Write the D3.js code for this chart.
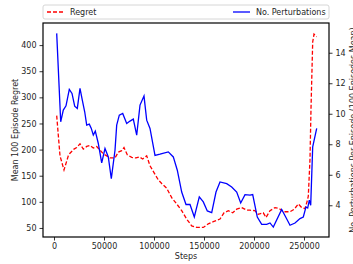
<!DOCTYPE html>
<html>
<head>
<meta charset="utf-8">
<script src="https://cdn.jsdelivr.net/npm/d3@7"></script>
<style>
  body { margin: 0; background: #fff; overflow: hidden; }
  text { font-family: "DejaVu Sans", sans-serif; fill: #262626; }
</style>
</head>
<body>
<script>
// regret (left axis)
const regretSteps = [2700, 6000, 10000, 14300, 16000, 20000, 22700, 26000, 29300, 32700, 36000, 39300, 42700, 46000, 49300, 52700, 56000, 61000, 64300, 67700, 70000, 73300, 77700, 82000, 85300, 88700, 92700, 96000, 100000, 104300, 107700, 112700, 117700, 122700, 127700, 132700, 137700, 142700, 149300, 154300, 159300, 166000, 170000, 174300, 178700, 182700, 187700, 192700, 196000, 201000, 204300, 209300, 212000, 216000, 221000, 225300, 229300, 236000, 240300, 244300, 247700, 251000, 253300, 254300, 256000, 257000, 258700, 260000, 262700];
const regret = [265, 188, 161, 188, 193, 201, 204, 211, 201, 206, 208, 203, 206, 199, 192, 188, 184, 184, 195, 198, 204, 190, 185, 184, 186, 182, 188, 169, 156, 142, 135, 126, 108, 96, 83, 67, 54, 51, 51, 58, 62, 67, 79, 83, 79, 86, 89, 84, 84, 83, 76, 79, 70, 83, 89, 87, 81, 81, 86, 96, 89, 87, 102, 111, 182, 278, 406, 421, 416];

// perturbations (right axis)
const pertSteps = [2700, 6700, 9300, 12000, 15300, 18000, 20700, 23300, 26000, 28300, 30700, 32700, 35300, 37300, 39300, 41300, 44300, 47700, 51000, 54300, 57300, 61000, 62700, 65300, 68700, 72700, 76000, 79300, 82700, 86000, 90000, 92700, 96000, 101000, 106000, 114300, 119300, 123300, 127700, 132000, 136000, 140300, 145300, 149300, 153300, 157700, 162000, 166000, 172700, 177700, 182700, 186700, 191000, 196000, 198700, 203300, 207700, 212700, 216000, 219300, 227700, 231700, 236000, 241000, 246000, 249300, 252000, 253700, 255300, 256700, 258700, 262700];
const perturbations = [15.27, 9.47, 10.24, 10.52, 11.6, 11.33, 10.5, 10.35, 11.66, 10.9, 10.13, 9.25, 9.32, 9.04, 8.6, 8.86, 8.05, 6.78, 7.72, 7.17, 5.75, 7.61, 9.25, 9.91, 10.02, 9.36, 9.52, 9.65, 8.6, 10.57, 11.16, 9.58, 9.04, 7.27, 7.35, 7.5, 7.17, 6.3, 4.87, 4.05, 4.05, 3.23, 4.55, 4.22, 3.63, 3.52, 4.87, 5.53, 5.42, 5.2, 4.87, 4.15, 4.7, 4.66, 4.7, 3.23, 2.75, 2.75, 2.84, 2.57, 3.72, 3.23, 2.69, 2.84, 3.13, 3.23, 3.89, 3.82, 4.33, 4.0, 7.83, 9.04];

const xTicks = [0, 50000, 100000, 150000, 200000, 250000];
const leftTicks = [50, 100, 150, 200, 250, 300, 350, 400];
const rightTicks = [4, 6, 8, 10, 12, 14];

const W = 353, H = 264;
const m = { left: 43, right: 329, top: 23, bottom: 237 };

const svg = d3.select("body").append("svg")
    .attr("width", W)
    .attr("height", H);

const x = d3.scaleLinear().domain([-11000, 275000]).range([m.left, m.right]);
const yL = d3.scaleLinear().domain([32.7, 442.3]).range([m.bottom, m.top]);
const yR = d3.scaleLinear().domain([1.92, 15.95]).range([m.bottom, m.top]);

const clip = svg.append("clipPath").attr("id", "plot")
    .append("rect")
    .attr("x", m.left).attr("y", m.top)
    .attr("width", m.right - m.left).attr("height", m.bottom - m.top);

const g = svg.append("g").attr("clip-path", "url(#plot)");

const regretLine = d3.line()
    .x((d, i) => x(regretSteps[i]))
    .y(d => yL(d));

const pertLine = d3.line()
    .x((d, i) => x(pertSteps[i]))
    .y(d => yR(d));

g.append("path")
    .datum(regret)
    .attr("d", regretLine)
    .attr("fill", "none")
    .attr("stroke", "red")
    .attr("stroke-width", 1.3)
    .attr("stroke-dasharray", "4,2");

g.append("path")
    .datum(perturbations)
    .attr("d", pertLine)
    .attr("fill", "none")
    .attr("stroke", "blue")
    .attr("stroke-width", 1.3);

// axes
const xAxis = svg.append("g")
    .attr("transform", `translate(0,${m.bottom})`)
    .call(d3.axisBottom(x).tickValues(xTicks).tickFormat(d3.format("d")).tickSize(3.5).tickPadding(3));

const leftAxis = svg.append("g")
    .attr("transform", `translate(${m.left},0)`)
    .call(d3.axisLeft(yL).tickValues(leftTicks).tickSize(3.5).tickPadding(3));

const rightAxis = svg.append("g")
    .attr("transform", `translate(${m.right},0)`)
    .call(d3.axisRight(yR).tickValues(rightTicks).tickSize(3.5).tickPadding(3));

[xAxis, leftAxis, rightAxis].forEach(a => {
    a.select(".domain").remove();
    a.selectAll(".tick line").attr("stroke", "#000").attr("stroke-width", 0.8);
    a.selectAll(".tick text").style("font-size", "8px").style("fill", "#262626");
});

// frame
svg.append("rect")
    .attr("x", m.left).attr("y", m.top)
    .attr("width", m.right - m.left).attr("height", m.bottom - m.top)
    .attr("fill", "none")
    .attr("stroke", "#000")
    .attr("stroke-width", 1.2);

// axis labels
svg.append("text")
    .attr("x", (m.left + m.right) / 2)
    .attr("y", 259)
    .attr("text-anchor", "middle")
    .style("font-size", "8px")
    .text("Steps");

svg.append("text")
    .attr("transform", `translate(15,${(m.top + m.bottom) / 2}) rotate(-90)`)
    .attr("text-anchor", "middle")
    .attr("dy", "0.35em")
    .style("font-size", "8px")
    .text("Mean 100 Episode Regret");

svg.append("text")
    .attr("transform", `translate(353,${(m.top + m.bottom) / 2}) rotate(-90)`)
    .attr("text-anchor", "middle")
    .attr("dy", "0.35em")
    .style("font-size", "8px")
    .text("No. Perturbations Per Episode (100 Episodes Mean)");

// legend
const legend = svg.append("g");
legend.append("rect")
    .attr("x", m.left).attr("y", 5)
    .attr("width", m.right - m.left).attr("height", 14)
    .attr("rx", 2)
    .attr("fill", "#fff")
    .attr("stroke", "#ccc")
    .attr("stroke-width", 0.8);

const items = [
    { label: "Regret", color: "red", dash: "4,2", x0: 47 },
    { label: "No. Perturbations", color: "blue", dash: null, x0: 233 }
];
items.forEach(it => {
    legend.append("line")
        .attr("x1", it.x0).attr("x2", it.x0 + 17)
        .attr("y1", 12).attr("y2", 12)
        .attr("stroke", it.color)
        .attr("stroke-width", 1.3)
        .attr("stroke-dasharray", it.dash);
    legend.append("text")
        .attr("x", it.x0 + 23)
        .attr("y", 12)
        .attr("dy", "0.35em")
        .style("font-size", "8px")
        .text(it.label);
});
</script>
</body>
</html>
